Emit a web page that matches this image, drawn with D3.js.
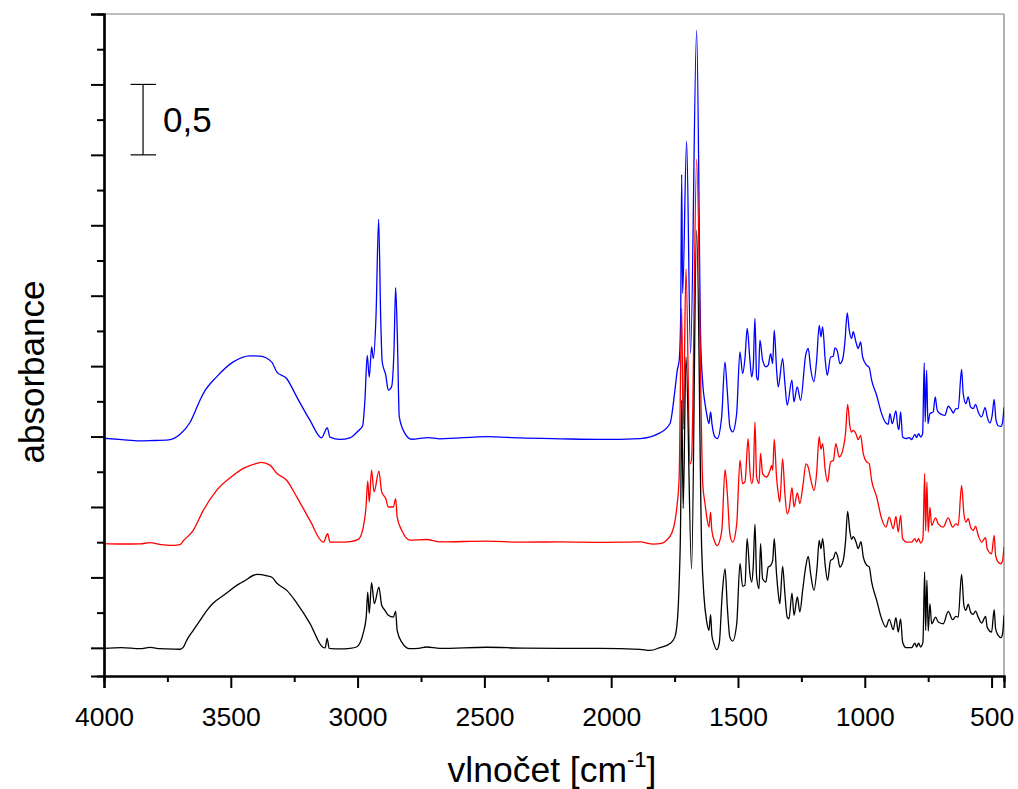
<!DOCTYPE html>
<html><head><meta charset="utf-8">
<script src="https://cdn.jsdelivr.net/npm/d3@7"></script>
<style>
body{margin:0;background:#fff;}
text{font-family:"Liberation Sans",Arial,sans-serif;fill:#000;}
</style>
</head><body>
<svg id="chart" width="1018" height="789"></svg>
<script>
// ---- data (wavenumber cm-1, displayed absorbance incl. stacking offset) ----
const xMajorTicks = [4000,3500,3000,2500,2000,1500,1000,500];
const xMinorTicks = [3750,3250,2750,2250,1750,1250,750];
const yMajorTicks = [0,0.5,1,1.5,2,2.5,3,3.5,4,4.5];
const yMinorTicks = [0.25,0.75,1.25,1.75,2.25,2.75,3.25,3.75,4.25];
const xTitle = "vlnočet [cm";
const xTitleSup = "-1";
const yTitle = "absorbance";
const scaleBarLabel = "0,5";
const scaleBarRange = [3.5, 4.0];
const scaleBarPos = 3846;

const blackSpectrum = [[4000,-0.004],[3930,0.002],[3858,-0.006],[3819,0.003],[3780,-0.006],[3753,-0.008],[3700,-0.01],[3687,0.005],[3674,0.053],[3648,0.124],[3621,0.195],[3594,0.266],[3570,0.316],[3523,0.38],[3464,0.458],[3451,0.47],[3397,0.521],[3357,0.511],[3338,0.501],[3318,0.458],[3279,0.408],[3239,0.316],[3188,0.174],[3137,0.004],[3128,0.0],[3120,0.067],[3112,-0.004],[3070,-0.008],[3030,-0.004],[3004,0.006],[2978,0.103],[2966,0.218],[2960,0.396],[2954,0.245],[2945,0.462],[2934,0.314],[2916,0.431],[2905,0.302],[2892,0.266],[2879,0.231],[2859,0.218],[2850,0.261],[2844,0.124],[2826,0.041],[2794,-0.006],[2760,-0.004],[2728,0.006],[2675,-0.004],[2490,0.004],[2350,-0.002],[2200,-0.004],[2044,-0.004],[1886,-0.011],[1847,-0.018],[1808,0.001],[1768,0.03],[1749,0.076],[1738,0.218],[1732,0.457],[1726,0.93],[1722,1.758],[1716,0.99],[1705,2.065],[1683,0.56],[1663,2.965],[1643,0.692],[1634,0.362],[1624,0.195],[1614.5,0.124],[1608,0.236],[1603,0.089],[1595,0.03],[1584,-0.013],[1574,0.03],[1562,0.385],[1551,0.56],[1542,0.289],[1532,0.076],[1521,0.048],[1505,0.171],[1492,0.6],[1482,0.437],[1472.5,0.444],[1464,0.775],[1453,0.526],[1446,0.467],[1440,0.573],[1433,0.877],[1426.5,0.503],[1417,0.42],[1411,0.739],[1403,0.49],[1390,0.467],[1381,0.573],[1371,0.585],[1363,0.621],[1357,0.775],[1348,0.526],[1341,0.384],[1335,0.313],[1324,0.579],[1315,0.384],[1306,0.218],[1299,0.206],[1287,0.389],[1279,0.231],[1266,0.361],[1256,0.254],[1245,0.408],[1232,0.585],[1223,0.649],[1213.5,0.526],[1200.5,0.408],[1187.5,0.585],[1180,0.763],[1173,0.704],[1166,0.775],[1156,0.585],[1146.5,0.479],[1135,0.621],[1124,0.633],[1115,0.68],[1107,0.649],[1098,0.574],[1085,0.621],[1075.5,0.763],[1067.6,0.969],[1058.6,0.823],[1052,0.77],[1045.6,0.789],[1035,0.753],[1026,0.705],[1015,0.753],[1006,0.646],[993,0.587],[982.5,0.575],[973,0.468],[953,0.337],[933.6,0.206],[916.6,0.147],[903.6,0.202],[887.8,0.129],[877.2,0.214],[868,0.112],[858.7,0.206],[850.8,0.041],[837.8,0.001],[815.3,0.001],[802.3,0.034],[795.6,0.006],[787.7,0.034],[779.8,0.006],[770.7,0.041],[764,0.539],[760,0.124],[755,0.479],[749.8,0.119],[743,0.313],[736.4,0.171],[720.6,0.218],[710.4,0.183],[690.7,0.171],[670.9,0.259],[653.6,0.2],[640.6,0.223],[631.6,0.218],[618.2,0.522],[609.2,0.302],[601.3,0.266],[592.2,0.31],[582.8,0.254],[572.5,0.238],[563.1,0.261],[552.8,0.218],[539.4,0.176],[523.6,0.223],[517.3,0.147],[500,0.112],[489.7,0.271],[484.2,0.136],[474,0.089],[463.3,0.072],[456.6,0.101],[451,0.231]];

const redSpectrum = [[4000,0.74],[3930,0.737],[3858,0.738],[3819,0.747],[3780,0.735],[3740,0.727],[3700,0.733],[3687,0.76],[3648,0.834],[3608.5,0.976],[3556,1.118],[3490,1.225],[3451,1.274],[3398,1.309],[3380,1.316],[3345.5,1.297],[3319,1.239],[3280,1.19],[3240,1.072],[3188,0.905],[3135,0.75],[3118,0.81],[3109,0.75],[3070,0.75],[3030,0.754],[2997,0.77],[2978,0.853],[2967,0.995],[2960,1.185],[2954,1.035],[2945,1.262],[2935,1.107],[2916,1.254],[2905,1.107],[2889,1.06],[2879,1.0],[2859,1.0],[2850,1.06],[2844,0.929],[2826,0.834],[2794,0.764],[2728,0.769],[2675,0.752],[2490,0.758],[2350,0.75],[2200,0.752],[2044,0.748],[1886,0.752],[1834,0.736],[1802,0.741],[1781.5,0.764],[1762,0.811],[1749,0.894],[1739.5,1.024],[1732,1.21],[1722,2.41],[1716,1.55],[1705,2.69],[1689,1.306],[1683,1.342],[1663,3.47],[1639,1.166],[1630,1.024],[1624,0.94],[1614.5,0.857],[1608,0.964],[1603,0.831],[1591,0.75],[1582,0.726],[1564,0.831],[1551,1.265],[1542,1.094],[1532,0.809],[1521,0.75],[1505,0.88],[1492,1.332],[1482,1.166],[1472.5,1.178],[1460,1.485],[1453,1.259],[1446,1.166],[1440,1.213],[1433,1.604],[1426.5,1.213],[1417,1.166],[1411,1.38],[1403,1.237],[1387,1.213],[1374,1.259],[1367,1.295],[1363,1.26],[1357,1.48],[1348,1.213],[1341,1.094],[1335,1.035],[1324,1.342],[1315,1.094],[1306,0.952],[1298,0.988],[1287,1.137],[1279,1.0],[1266,1.1],[1256,1.024],[1243,1.166],[1232,1.306],[1223,1.283],[1213.5,1.2],[1200.5,1.118],[1190,1.237],[1180,1.5],[1173,1.41],[1166,1.45],[1156,1.259],[1146.5,1.178],[1135,1.32],[1124,1.33],[1114,1.45],[1101,1.355],[1087,1.402],[1075.5,1.532],[1067.6,1.729],[1058.6,1.573],[1052,1.532],[1045.6,1.544],[1035,1.52],[1026,1.478],[1016.4,1.509],[1006,1.379],[993,1.32],[982.5,1.308],[973,1.189],[953,1.07],[933.6,0.917],[916.6,0.857],[903.6,0.928],[887.8,0.846],[877.2,0.933],[868,0.822],[858.7,0.94],[850.8,0.775],[835,0.751],[815.3,0.751],[802.3,0.775],[795.6,0.751],[787.7,0.775],[779.8,0.744],[770.7,0.775],[764,1.237],[760,0.831],[755,1.177],[749.8,0.821],[743,0.999],[736.4,0.869],[720.6,0.923],[710.4,0.88],[690.7,0.857],[670.9,0.923],[653.6,0.857],[640.6,0.88],[631.6,0.869],[618.2,1.154],[609.2,0.952],[601.3,0.893],[592.2,0.917],[582.8,0.857],[572.5,0.833],[563.1,0.862],[552.8,0.799],[539.4,0.751],[523.6,0.782],[517.3,0.703],[500,0.668],[489.7,0.798],[484.2,0.656],[474,0.609],[463.3,0.597],[456.6,0.621],[451,0.716]];

const blueSpectrum = [[4000,1.488],[3930,1.478],[3858,1.469],[3800,1.472],[3753,1.474],[3700,1.516],[3661,1.6],[3621.5,1.758],[3608.5,1.805],[3556,1.924],[3490,2.03],[3424,2.073],[3385,2.071],[3339,2.03],[3319,1.959],[3280,1.912],[3240,1.782],[3188,1.616],[3142,1.491],[3119.5,1.562],[3109,1.496],[3069.5,1.48],[3030,1.491],[3017,1.506],[2997,1.541],[2980,1.577],[2971,1.761],[2962,2.077],[2954,1.922],[2944.5,2.136],[2938,2.054],[2927.5,2.349],[2917,3.041],[2909,2.349],[2903,2.031],[2889,1.937],[2879,1.83],[2866,1.854],[2856.5,2.113],[2850,2.558],[2843.5,2.231],[2835.6,1.639],[2813,1.521],[2787,1.481],[2721,1.493],[2675,1.484],[2490,1.5],[2360,1.49],[2200,1.484],[2044,1.48],[1886,1.486],[1808,1.526],[1768,1.593],[1748.6,1.83],[1739.5,1.97],[1731.7,2.042],[1726,2.349],[1722,3.361],[1718.3,2.515],[1702.5,3.597],[1687,2.09],[1663,4.385],[1647,2.174],[1639,1.876],[1630,1.734],[1623.6,1.663],[1614.5,1.592],[1607.8,1.675],[1602.7,1.592],[1590.8,1.497],[1581.8,1.486],[1564.4,1.64],[1551.4,2.029],[1542.4,1.828],[1531.8,1.568],[1521,1.533],[1505.3,1.663],[1492.3,2.101],[1481.6,1.947],[1472.5,2.054],[1463.6,2.267],[1452.9,2.043],[1446.2,1.924],[1439.9,1.995],[1433.2,2.338],[1426.5,1.924],[1420.2,1.9],[1413.4,2.184],[1402.8,2.042],[1389.8,1.995],[1380.7,2.007],[1371.2,2.089],[1363.4,2.018],[1357,2.255],[1347.6,1.971],[1341.3,1.853],[1324,2.054],[1314.9,1.876],[1305.8,1.722],[1287.3,1.9],[1279.4,1.747],[1266.4,1.853],[1253,1.757],[1233.2,2.077],[1223,2.125],[1213.5,1.983],[1200.5,1.889],[1189.9,2.042],[1179.6,2.29],[1172.9,2.208],[1166.2,2.279],[1155.9,2.042],[1148,1.935],[1134.6,2.065],[1124.4,2.07],[1117.7,2.13],[1108.6,2.11],[1098,2.018],[1087.4,2.047],[1078.3,2.172],[1069.2,2.378],[1061.3,2.256],[1051.9,2.197],[1045.6,2.244],[1035,2.172],[1025.9,2.125],[1016.4,2.172],[1008.5,2.065],[992.8,2.007],[982.5,1.99],[973,1.9],[953.3,1.793],[933.6,1.663],[916.6,1.596],[907.6,1.587],[900.8,1.663],[891.8,1.592],[877.2,1.682],[870.5,1.58],[865.4,1.549],[858.7,1.675],[850.8,1.497],[837.8,1.486],[824.8,1.493],[815.3,1.479],[802.3,1.516],[795.6,1.493],[787.7,1.521],[779.8,1.497],[771.9,1.521],[765.6,2.023],[761.7,1.604],[756.1,1.971],[751,1.592],[743.1,1.663],[730.1,1.675],[722.2,1.781],[714.3,1.686],[703.7,1.663],[683.9,1.651],[670.9,1.715],[657.5,1.686],[651.3,1.667],[640.6,1.698],[631.6,1.698],[618.2,1.976],[611.9,1.806],[601.3,1.734],[592.2,1.781],[582.8,1.71],[572.5,1.698],[563.1,1.729],[552.8,1.675],[539.4,1.64],[525.2,1.706],[517.3,1.64],[506.7,1.597],[497.6,1.651],[489.7,1.764],[483,1.624],[474,1.577],[463.3,1.572],[456.6,1.601],[451,1.708]];

const seriesList = [
  {name:"blue", color:"#0000ff", data: blueSpectrum},
  {name:"red", color:"#ff0000", data: redSpectrum},
  {name:"black", color:"#000000", data: blackSpectrum}
];

// ---- layout ----
const svg = d3.select("#chart");
const L = 104, R = 1004, T = 14, B = 676;
const x = d3.scaleLinear().domain([4000, 451]).range([L, R]);
const y = d3.scaleLinear().domain([-0.2, 4.5]).range([B, T]);
const FONT = '"Liberation Sans",Arial,sans-serif';

// frame top/right
svg.append("line").attr("x1", L).attr("x2", R).attr("y1", T).attr("y2", T)
  .attr("stroke", "#808080").attr("stroke-width", 1.2);
svg.append("line").attr("x1", R).attr("x2", R).attr("y1", T).attr("y2", B)
  .attr("stroke", "#808080").attr("stroke-width", 1.2);

// series
svg.append("clipPath").attr("id","plotclip").append("rect")
  .attr("x", L).attr("y", T-30).attr("width", R-L).attr("height", B-T+30);
const line = d3.line().x(d => x(d[0])).y(d => y(d[1])).curve(d3.curveMonotoneX);
const g = svg.append("g").attr("clip-path","url(#plotclip)");
seriesList.forEach(s => {
  g.append("path").datum(s.data).attr("d", line)
    .attr("fill","none").attr("stroke", s.color).attr("stroke-width", 1.3)
    .attr("stroke-linejoin","round");
});

// axes
function styleAxis(sel){
  sel.select(".domain").attr("stroke","#000").attr("stroke-width",2.2);
  sel.selectAll(".tick line").attr("stroke","#000").attr("stroke-width",2);
}
const xMinor = svg.append("g").attr("transform",`translate(0,${B})`)
  .call(d3.axisBottom(x).tickValues(xMinorTicks).tickSize(6).tickFormat(""));
styleAxis(xMinor);
const xMajor = svg.append("g").attr("transform",`translate(0,${B})`)
  .call(d3.axisBottom(x).tickValues(xMajorTicks).tickSize(12).tickPadding(19).tickFormat(d3.format("d")));
styleAxis(xMajor);
xMajor.selectAll(".tick text").style("font-size","26.5px").style("font-family", FONT);

const yMinor = svg.append("g").attr("transform",`translate(${L},0)`)
  .call(d3.axisLeft(y).tickValues(yMinorTicks).tickSize(7).tickFormat(""));
styleAxis(yMinor);
const yMajor = svg.append("g").attr("transform",`translate(${L},0)`)
  .call(d3.axisLeft(y).tickValues(yMajorTicks).tickSize(13).tickFormat(""));
styleAxis(yMajor);

// axis titles
const xt = svg.append("text").attr("x", 552).attr("y", 782)
  .attr("text-anchor","middle").style("font-size","35.5px");
xt.append("tspan").text(xTitle);
xt.append("tspan").text(xTitleSup).attr("dy", -15).style("font-size","22px");
xt.append("tspan").text("]").attr("dy", 15);

svg.append("text").attr("transform","translate(44,372) rotate(-90)")
  .attr("text-anchor","middle").style("font-size","35px").text(yTitle);

// scale bar (0.5 absorbance units)
const sbx = x(scaleBarPos);
svg.append("line").attr("x1", sbx).attr("x2", sbx)
  .attr("y1", y(scaleBarRange[0])).attr("y2", y(scaleBarRange[1]))
  .attr("stroke","#000").attr("stroke-width",1.2);
[0,1].forEach(i => svg.append("line").attr("x1", sbx-12.5).attr("x2", sbx+13)
  .attr("y1", y(scaleBarRange[i])).attr("y2", y(scaleBarRange[i]))
  .attr("stroke","#000").attr("stroke-width",1.2));
svg.append("text").attr("x", sbx+20).attr("y", (y(scaleBarRange[0])+y(scaleBarRange[1]))/2 + 12.5)
  .style("font-size","35px").text(scaleBarLabel);
</script>
</body></html>
